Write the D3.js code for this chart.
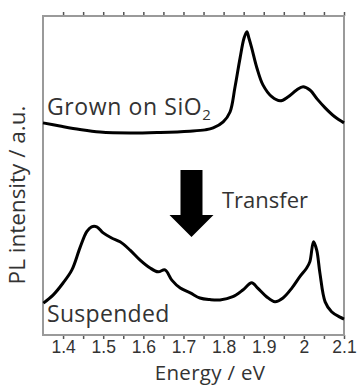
<!DOCTYPE html>
<html>
<head>
<meta charset="utf-8">
<script src="https://cdn.jsdelivr.net/npm/d3@7"></script>
<style>
  body { margin: 0; background: #fff; }
  svg { display: block; font-family: "Open Sans", sans-serif; }
  .frame { fill: none; stroke: #9a9a9a; stroke-width: 2; }
  .axis path { display: none; }
  .axis line { stroke: #555; stroke-width: 1.5; }
  .axis text { fill: #333; font-size: 17.5px; }
  .curve { fill: none; stroke: #000; stroke-width: 3; stroke-linejoin: round; }
  .label { fill: #333; }
</style>
</head>
<body>
<div id="chart"></div>
<script>
// Grown on SiO2 (upper trace), energy in eV / intensity in a.u.
const grownEnergy = [1.350, 1.392, 1.442, 1.492, 1.567, 1.642, 1.716, 1.754, 1.774, 1.799,
  1.816, 1.828, 1.841, 1.851, 1.858, 1.863, 1.870, 1.883, 1.898, 1.920,
  1.941, 1.961, 1.982, 1.998, 2.015, 2.035, 2.053, 2.077, 2.100];
const grownIntensity = [66.5, 65.5, 64.4, 63.6, 63.3, 63.5, 63.9, 64.3, 64.9, 66.8,
  69.9, 77.4, 86.8, 93.1, 95.1, 93.1, 90.0, 83.7, 78.4, 74.7,
  73.4, 74.7, 76.8, 77.8, 76.8, 73.7, 71.2, 68.4, 66.5];

// Suspended (lower trace)
const suspEnergy = [1.351, 1.375, 1.400, 1.422, 1.442, 1.459, 1.471, 1.484, 1.500, 1.521,
  1.542, 1.567, 1.592, 1.617, 1.637, 1.654, 1.671, 1.692, 1.717, 1.741,
  1.766, 1.791, 1.823, 1.848, 1.870, 1.885, 1.907, 1.928, 1.948, 1.970,
  1.990, 2.007, 2.015, 2.024, 2.032, 2.040, 2.053, 2.069, 2.090, 2.100];
const suspIntensity = [10.0, 12.5, 16.3, 20.4, 27.3, 32.4, 33.9, 33.9, 32.0, 30.4,
  29.2, 26.6, 23.5, 21.0, 19.8, 20.4, 17.2, 14.7, 13.2, 11.6,
  11.1, 11.0, 12.0, 14.1, 16.4, 14.7, 12.0, 10.4, 11.6, 14.7,
  18.3, 21.0, 23.0, 29.2, 26.6, 19.4, 10.4, 7.3, 5.6, 5.0];

const tickValues = [1.4, 1.45, 1.5, 1.55, 1.6, 1.65, 1.7, 1.75, 1.8,
  1.85, 1.9, 1.95, 2.0, 2.05, 2.1];
const tickLabels = { '1.4': '1.4', '1.5': '1.5', '1.6': '1.6', '1.7': '1.7',
  '1.8': '1.8', '1.9': '1.9', '2': '2', '2.1': '2.1' };

const width = 359;
const height = 385;
const margin = { top: 16, right: 15, bottom: 50, left: 43 };

const svg = d3.select('#chart')
              .append('svg')
              .attr('width', width)
              .attr('height', height);

const x = d3.scaleLinear()
            .domain([1.35, 2.1])
            .range([margin.left, width - margin.right]);
const y = d3.scaleLinear()
            .domain([0, 100])
            .range([height - margin.bottom, margin.top]);

// ticks (top without labels, bottom with labels)
svg.append('g')
   .attr('class', 'axis')
   .attr('transform', `translate(0, ${margin.top})`)
   .call(d3.axisTop(x).tickValues(tickValues).tickSize(4).tickFormat(() => ''));

svg.append('g')
   .attr('class', 'axis')
   .attr('transform', `translate(0, ${height - margin.bottom})`)
   .call(d3.axisBottom(x)
           .tickValues(tickValues)
           .tickSize(4)
           .tickPadding(2)
           .tickFormat((d) => tickLabels[String(+d.toFixed(2))] || ''));

// frame
svg.append('rect')
   .attr('class', 'frame')
   .attr('x', margin.left)
   .attr('y', margin.top)
   .attr('width', width - margin.left - margin.right)
   .attr('height', height - margin.top - margin.bottom);

const line = d3.line()
               .x((d) => x(d[0]))
               .y((d) => y(d[1]))
               .curve(d3.curveCatmullRom.alpha(0.5));

svg.append('path')
   .attr('class', 'curve')
   .attr('d', line(d3.zip(grownEnergy, grownIntensity)));

svg.append('path')
   .attr('class', 'curve')
   .attr('d', line(d3.zip(suspEnergy, suspIntensity)));

// labels
const grown = svg.append('text')
   .attr('class', 'label')
   .attr('x', 47)
   .attr('y', 115)
   .style('font-size', '23px')
   .style('letter-spacing', '0.6px')
   .text('Grown on SiO');
grown.append('tspan')
   .attr('dy', 5)
   .style('font-size', '15px')
   .text('2');

svg.append('text')
   .attr('class', 'label')
   .attr('x', 47)
   .attr('y', 322)
   .style('font-size', '23px')
   .style('letter-spacing', '0.3px')
   .text('Suspended');

svg.append('text')
   .attr('class', 'label')
   .attr('x', 222)
   .attr('y', 208)
   .style('font-size', '22px')
   .text('Transfer');

// transfer arrow
const ax = x(1.72);
svg.append('path')
   .attr('fill', '#000')
   .attr('d', `M${ax - 11},170H${ax + 11}V215H${ax + 22}L${ax},237L${ax - 22},215H${ax - 11}Z`);

// axis titles
svg.append('text')
   .attr('class', 'label')
   .attr('x', 210)
   .attr('y', 380)
   .attr('text-anchor', 'middle')
   .style('font-size', '20.5px')
   .style('letter-spacing', '0.3px')
   .text('Energy / eV');

svg.append('text')
   .attr('class', 'label')
   .attr('transform', `translate(25, ${195}) rotate(-90)`)
   .attr('text-anchor', 'middle')
   .style('font-size', '22.5px')
   .text('PL intensity / a.u.');
</script>
</body>
</html>
